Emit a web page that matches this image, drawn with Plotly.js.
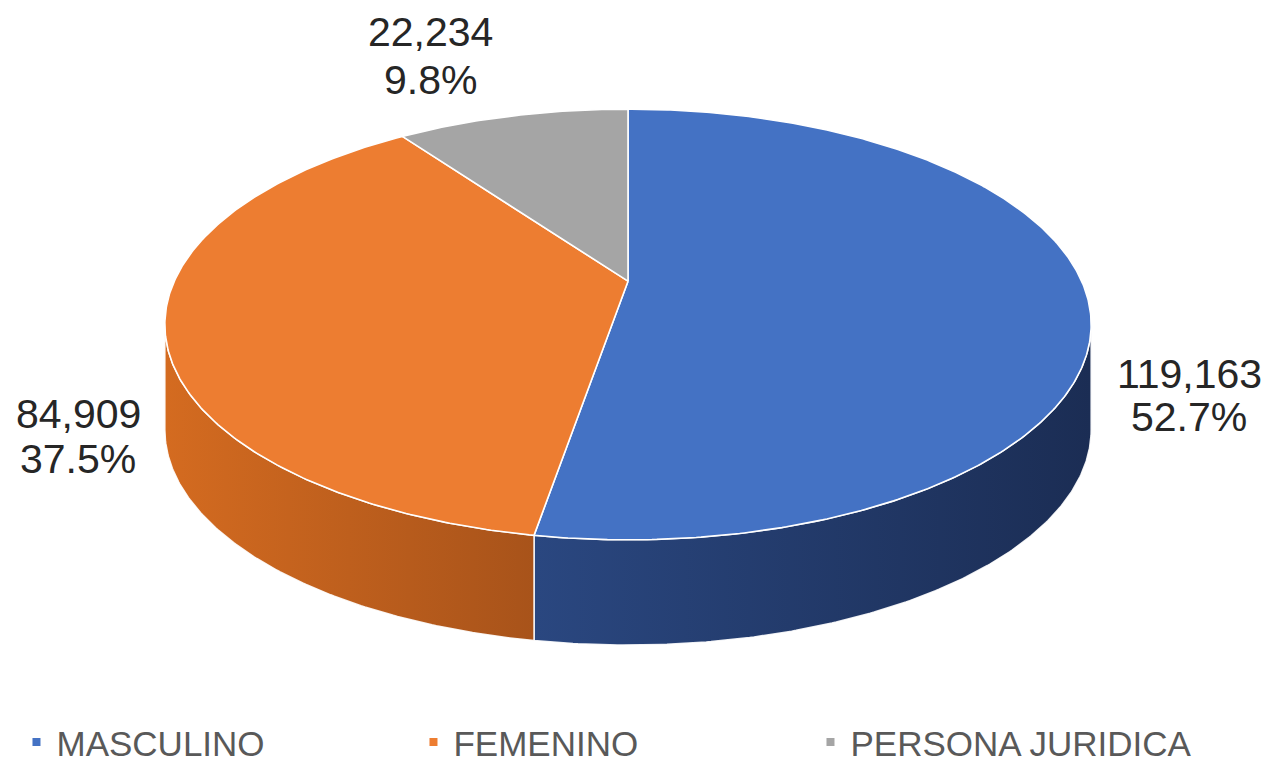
<!DOCTYPE html>
<html>
<head>
<meta charset="utf-8">
<script src="https://cdn.plot.ly/plotly-3.0.1.min.js"></script>
<style>html,body{margin:0;padding:0;background:#fff;}#chart{width:1268px;height:772px;}</style>
</head>
<body>
<div id="chart"></div>
<script>
// ---- data ----
const categories = ['MASCULINO', 'FEMENINO', 'PERSONA JURIDICA'];
const values = [119163, 84909, 22234];
const valueLabels = ['119,163', '84,909', '22,234'];
const percentLabels = ['52.7%', '37.5%', '9.8%'];
const topColors = ['#4472c4', '#ed7d31', '#a5a5a5'];
const sideColorsLeft = ['#2a4780', '#d46b20', '#7f7f7f'];
const sideColorsRight = ['#1b2d54', '#a8531a', '#6f6f6f'];

// ---- projection of a tilted disc (perspective) ----
const CX = 628, CY = 286, A = 453.7, B = 210.2, K = 0.201, DEPTH = 107;
function proj(deg, dy) {
  const t = deg * Math.PI / 180;
  const u = Math.sin(t), v = Math.cos(t);
  const d = 1 + K * v;
  return [CX + A * u / d, CY - B * v / d + (dy || 0)];
}
function arc(a0, a1, dy) {
  const pts = [];
  const n = Math.max(2, Math.ceil(Math.abs(a1 - a0) / 0.5));
  for (let i = 0; i <= n; i++) pts.push(proj(a0 + (a1 - a0) * i / n, dy));
  return pts;
}

const total = values.reduce((s, v) => s + v, 0);
const angles = [];
let acc = 0;
values.forEach(v => { const a0 = acc / total * 360; acc += v; angles.push([a0, acc / total * 360]); });

const visR = Math.acos(-K) * 180 / Math.PI;   // right silhouette
const visL = 360 - visR;                      // left silhouette

const traces = [];
// side walls
angles.forEach(([a0, a1], i) => {
  const s = Math.max(a0, visR), e = Math.min(a1, visL);
  if (e <= s) return;
  const top = arc(s, e, 0);
  const bot = arc(e, s, DEPTH);
  const pts = top.concat(bot);
  pts.push(top[0]);
  traces.push({
    type: 'scatter', mode: 'lines', hoverinfo: 'skip', showlegend: false,
    x: pts.map(p => p[0]), y: pts.map(p => p[1]),
    fill: 'toself',
    fillgradient: { type: 'horizontal', colorscale: [[0, sideColorsLeft[i]], [1, sideColorsRight[i]]] },
    line: { color: 'rgba(255,255,255,0.9)', width: 1.5 }
  });
});
// top faces
angles.forEach(([a0, a1], i) => {
  const pts = [[CX, CY]].concat(arc(a0, a1, 0));
  pts.push([CX, CY]);
  traces.push({
    type: 'scatter', mode: 'lines', hoverinfo: 'skip', showlegend: false,
    x: pts.map(p => p[0]), y: pts.map(p => p[1]),
    fill: 'toself', fillcolor: topColors[i],
    line: { color: '#ffffff', width: 1.6 }
  });
});
// legend entries
categories.forEach((c, i) => {
  traces.push({
    type: 'scatter', mode: 'markers', name: c, x: [null], y: [null],
    marker: { symbol: 'square', size: 8, color: topColors[i] }
  });
});

// data labels
const labelPos = [[1189, 380, 424], [78, 421, 467], [430, 33, 81]];
const annotations = [];
categories.forEach((c, i) => {
  const [lx, ly1, ly2] = labelPos[i];
  annotations.push({ x: lx, y: ly1, xref: 'x', yref: 'y', text: valueLabels[i], showarrow: false,
    xanchor: 'center', yanchor: 'middle', font: { family: 'Liberation Sans, Arial, sans-serif', size: 41, color: '#262626' } });
  annotations.push({ x: lx, y: ly2, xref: 'x', yref: 'y', text: percentLabels[i], showarrow: false,
    xanchor: 'center', yanchor: 'middle', font: { family: 'Liberation Sans, Arial, sans-serif', size: 41, color: '#262626' } });
});

const layout = {
  width: 1268, height: 772,
  margin: { l: 0, r: 0, t: 0, b: 0 },
  paper_bgcolor: '#ffffff', plot_bgcolor: '#ffffff',
  xaxis: { range: [0, 1268], visible: false, fixedrange: true },
  yaxis: { range: [772, 0], visible: false, fixedrange: true },
  showlegend: true,
  legend: {
    orientation: 'h', x: 0.013, xanchor: 'left', y: 0.022, yanchor: 'middle',
    entrywidth: 352, itemwidth: 30,
    font: { family: 'Liberation Sans, Arial, sans-serif', size: 35, color: '#595959' },
    bgcolor: 'rgba(0,0,0,0)'
  },
  annotations: annotations
};

Plotly.newPlot('chart', traces, layout, { displayModeBar: false, staticPlot: true });
</script>
</body>
</html>
